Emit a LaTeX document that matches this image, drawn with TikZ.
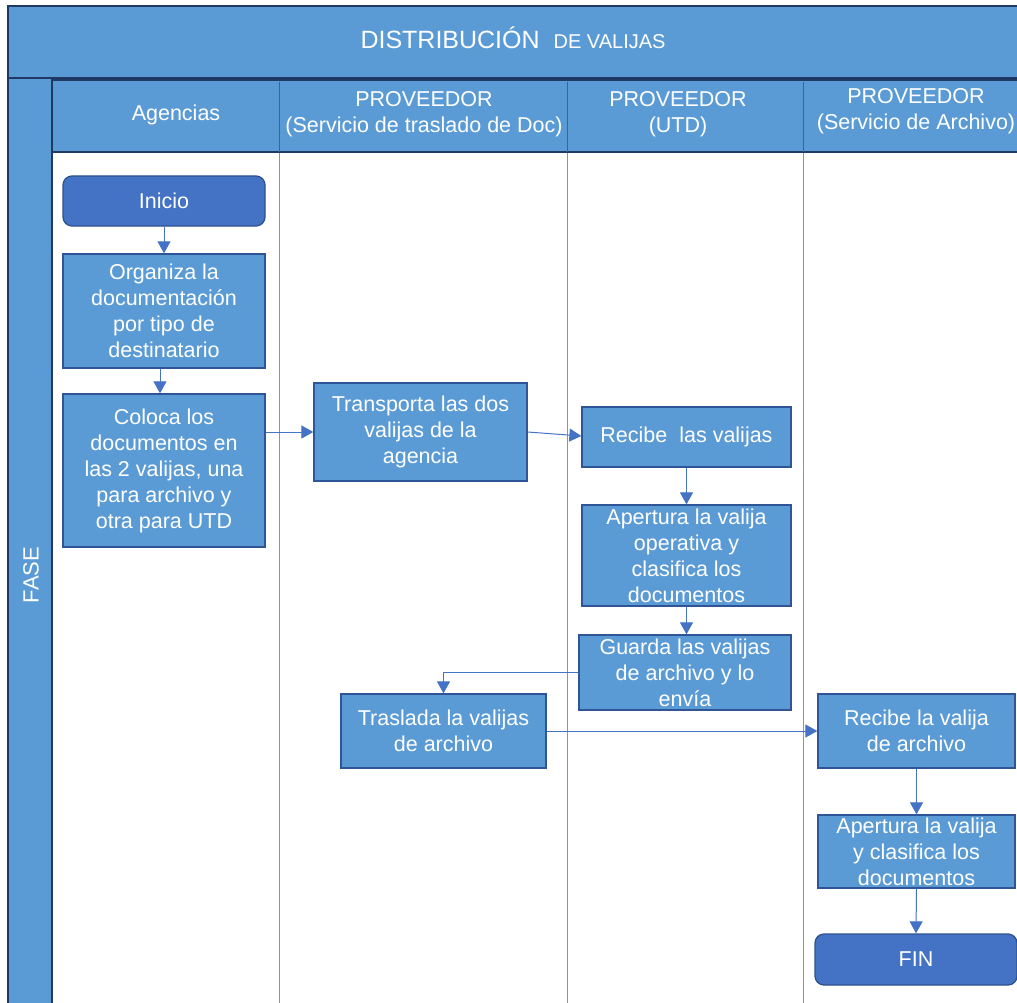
\documentclass[tikz,border=0pt]{standalone}
\usepackage{fontspec}
\setmainfont{Liberation Sans}
\usetikzlibrary{arrows.meta}
\definecolor{bandblue}{HTML}{5B9BD5}
\definecolor{navy}{HTML}{1F3864}
\definecolor{boxedge}{HTML}{2F5597}
\definecolor{startfill}{HTML}{4472C4}
\definecolor{startedge}{HTML}{2F528F}
\definecolor{laneline}{HTML}{8497B0}
\definecolor{arrowblue}{HTML}{4472C4}
\tikzset{
  band/.style={fill=bandblue, draw=navy, line width=1.6pt},
  hdrtext/.style={text=white, align=center, font=\fontsize{21.5}{26}\selectfont},
  procbox/.style={rectangle, fill=bandblue, draw=boxedge, line width=1.3pt, text=white, align=center, inner sep=0pt, font=\fontsize{21.5}{26}\selectfont},
  termbox/.style={rectangle, rounded corners=9pt, fill=startfill, draw=startedge, line width=1.3pt, text=white, align=center, font=\fontsize{21.5}{26}\selectfont},
  flow/.style={draw=arrowblue, line width=1pt, -{Triangle[width=13pt,length=12pt]}},
  lane/.style={draw=laneline, line width=1pt}
}
\begin{document}
\begin{tikzpicture}[x=1pt, y=-1pt]
\useasboundingbox (0,0) rectangle (1017,1003);
\fill[white] (0,0) rectangle (1017,1003);
% title band
\draw[band] (8,6) rectangle (1030,78);
\node[text=white, anchor=base] (title) at (513,49) {\fontsize{25}{26}\selectfont DISTRIBUCIÓN\ \ \fontsize{20}{26}\selectfont DE VALIJAS};
% FASE column
\draw[band] (8,78) rectangle (52,1010);
\node[text=white, rotate=90, font=\fontsize{22}{26}\selectfont] (fase) at (31,575) {FASE};
% header row
\draw[band] (52,80) rectangle (1030,152);
\draw[draw=navy!80, line width=0.8pt] (279,82) -- (279,152) (567,82) -- (567,152) (803,82) -- (803,152);
\node[hdrtext] (h1) at (176,115) {Agencias};
\node[hdrtext] (h2) at (424,114) {PROVEEDOR\\(Servicio de traslado de Doc)};
\node[hdrtext] (h3) at (678,114) {PROVEEDOR\\(UTD)};
\node[hdrtext] (h4) at (916,111) {PROVEEDOR\\(Servicio de Archivo)};
% lane lines
\draw[lane] (279,153) -- (279,1010);
\draw[lane] (567,153) -- (567,1010);
\draw[lane] (803,153) -- (803,1010);
% nodes
\node[termbox, minimum width=202pt, minimum height=50pt] (inicio) at (164,201) {Inicio};
\node[procbox, minimum width=202pt, minimum height=114pt] (org) at (164,311) {Organiza la\\documentación\\por tipo de\\destinatario};
\node[procbox, minimum width=202pt, minimum height=153pt] (coloca) at (164,470.5) {Coloca los\\documentos en\\las 2 valijas, una\\para archivo y\\otra para UTD};
\node[procbox, minimum width=213pt, minimum height=98pt] (transp) at (420.5,432) {Transporta las dos\\valijas de la\\agencia};
\node[procbox, minimum width=209pt, minimum height=60pt] (recibe) at (686.5,437) {Recibe\ \ las valijas};
\node[procbox, minimum width=209pt, minimum height=101pt] (apert) at (686.5,555.5) {Apertura la valija\\operativa y\\clasifica los\\documentos};
\node[procbox, minimum width=212pt, minimum height=75pt] (guarda) at (685,672.5) {Guarda las valijas\\de archivo y lo\\envía};
\node[procbox, minimum width=205pt, minimum height=74pt] (trasl) at (443.5,731) {Traslada la valijas\\de archivo};
\node[procbox, minimum width=197pt, minimum height=74pt] (recarch) at (916.5,731) {Recibe la valija\\de archivo};
\node[procbox, minimum width=197pt, minimum height=73pt] (apert2) at (916.5,851.5) {Apertura la valija\\y clasifica los\\documentos};
\node[termbox, minimum width=202pt, minimum height=51pt] (fin) at (916,959.5) {FIN};
% connectors
\draw[flow] (inicio.south) -- (org.north);
\draw[flow] ([xshift=-4pt]org.south) -- ([xshift=-4pt]coloca.north);
\draw[flow] (coloca.east |- 0,432) -- (transp.west);
\draw[flow] (transp.east) -- ([yshift=1pt]recibe.west);
\draw[flow] (recibe.south) -- (apert.north);
\draw[flow] (apert.south) -- (guarda.north -| apert.south);
\draw[flow] (guarda.west) -| (trasl.north);
\draw[flow] (trasl.east) -- (recarch.west);
\draw[flow] (recarch.south) -- (apert2.north);
\draw[flow] (apert2.south) -- (fin.north);
\end{tikzpicture}
\end{document}
